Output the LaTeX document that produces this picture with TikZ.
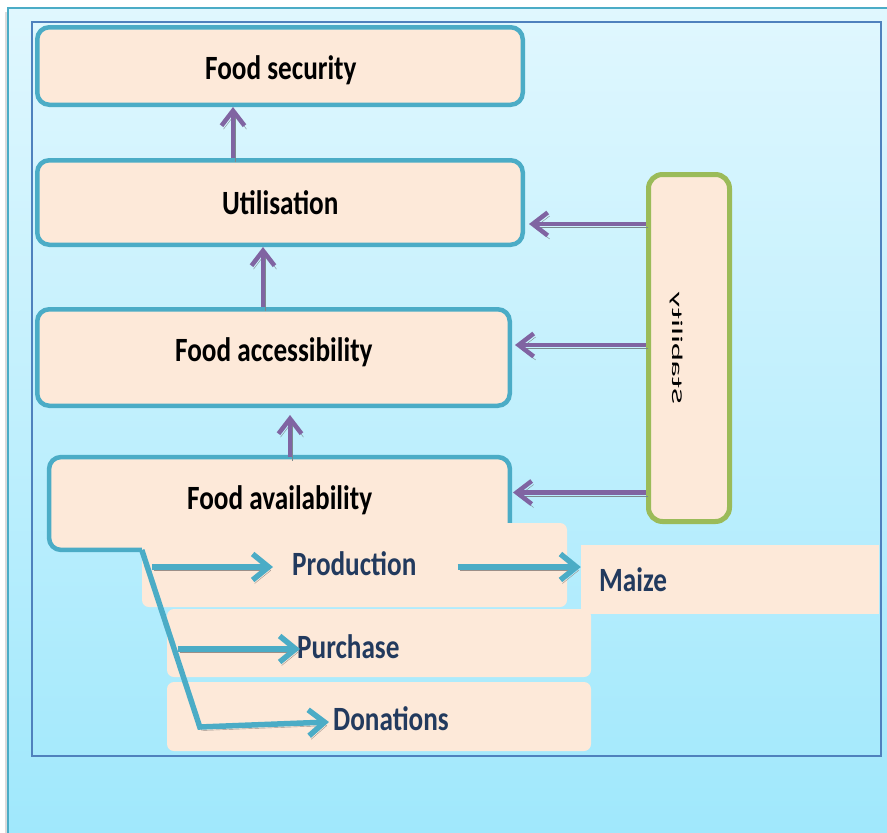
\documentclass[tikz,border=0pt]{standalone}
\usepackage{fontspec}
\setmainfont{Carlito}
\newfontfamily\headfont{Carlito}[FakeStretch=0.8]
\usetikzlibrary{arrows.meta}

\definecolor{peach}{HTML}{FDE9D9}
\definecolor{tealline}{HTML}{4BACC6}
\definecolor{purp}{HTML}{8064A2}
\definecolor{leaf}{HTML}{9BBB59}
\definecolor{navy}{HTML}{223A5E}
\definecolor{shadeT}{HTML}{9C8F88}
\definecolor{shadeP}{HTML}{7B8A8E}
\definecolor{frameblue}{HTML}{4F81BD}
\definecolor{bgtop}{HTML}{E0F7FE}
\definecolor{bgbot}{HTML}{A0E8FC}

\tikzset{
  levelbox/.style={draw=tealline, line width=4.5pt, fill=peach, rounded corners=12pt, inner sep=0pt},
  itembox/.style={fill=peach, rounded corners=7pt, inner sep=0pt},
  headlbl/.style={font=\headfont\bfseries\fontsize{34}{40}\selectfont, inner sep=0pt, anchor=base west},
  itemlbl/.style={headlbl, text=navy},
  purplearrow/.style={draw=purp, line width=4.5pt, -{Straight Barb[length=15pt,width=23pt]},
    preaction={draw=shadeP, transform canvas={xshift=2pt,yshift=-3.5pt}}},
  flowarrow/.style={draw=tealline, line width=5.5pt, -{Straight Barb[length=16pt,width=26pt]},
    preaction={draw=shadeT, transform canvas={xshift=2pt,yshift=-3.5pt}}},
}

\begin{document}
\begin{tikzpicture}[x=1pt,y=-1pt]
\useasboundingbox (0,0) rectangle (887,833);
\clip (0,0) rectangle (887,833);

% page and frames
\fill[white] (0,0) rectangle (887,833);
\fill[black!14] (5,12) rectangle (8,833);
\shade[top color=bgtop, bottom color=bgbot] (8,8) rectangle (887,833);
\draw[tealline, line width=1.5pt] (8,833) -- (8,8) -- (887,8);
\draw[frameblue, line width=1.8pt] (32,22) rectangle (881,756);

% the four levels
\node[levelbox, minimum width=485.5pt, minimum height=77.5pt] (fs) at (280,66) {};
\node[levelbox, minimum width=485.5pt, minimum height=84.5pt] (util) at (280,202.5) {};
\node[levelbox, minimum width=472.5pt, minimum height=96.5pt] (acc) at (273.5,357.5) {};
\node[fill=peach, rounded corners=12pt, inner sep=0pt, minimum width=460.5pt, minimum height=92.5pt] (avail) at (279.5,503.5) {};

% sources of availability
\node[itembox, minimum width=425pt, minimum height=84pt] (prodbox) at (354.5,565) {};
\draw[tealline, line width=4.5pt, rounded corners=12pt]
  (avail.east |- prodbox.north) -- (avail.north east) -- (avail.north west)
  -- (avail.south west) -- (prodbox.west |- avail.south) coordinate (fork);
\node[itembox, minimum width=424pt, minimum height=68pt] (purchbox) at (379,643) {};
\node[itembox, minimum width=424pt, minimum height=69pt] (donbox) at (379,716.5) {};
\node[fill=peach, inner sep=0pt, minimum width=298pt, minimum height=69pt] (maizebox) at (730,579.5) {};

% stability pillar, its label set as mirrored vertical text
\node[draw=leaf, line width=5pt, fill=peach, rounded corners=14pt, inner sep=0pt,
      minimum width=81pt, minimum height=347pt] (stab) at (689,348) {};
\node[inner sep=0pt] (stablbl) at (676.5,348.5)
  {\rotatebox{90}{\scalebox{2.3}[-1]{\fontsize{15}{18}\selectfont Stability}}};

% labels
\node[headlbl] (fstxt) at (205,79) {Food security};
\node[headlbl] (utiltxt) at (222,214) {Utilisation};
\node[headlbl] (acctxt) at (175,361) {Food accessibility};
\node[headlbl] (availtxt) at (187,509) {Food availability};
\node[itemlbl] (prod) at (292,575) {Production};
\node[itemlbl] (maize) at (599,591) {Maize};
\node[itemlbl] (purch) at (297,658) {Purchase};
\node[itemlbl] (don) at (333,730) {Donations};

% upward links between levels
\coordinate (a1) at ([xshift=-47pt]util.north);
\draw[purplearrow] (a1) -- (a1 |- fs.south);
\coordinate (a2) at ([xshift=-10.5pt]acc.north);
\draw[purplearrow] (a2) -- (a2 |- util.south);
\coordinate (a3) at ([xshift=10.5pt]avail.north);
\coordinate (a3tip) at ([xshift=16.5pt,yshift=-7pt]acc.south);
\draw[purplearrow] (a3) -- (a3tip);

% stability feeds three levels
\coordinate (s1) at ([xshift=4pt,yshift=-21.5pt]util.east);
\draw[purplearrow] (stab.west |- s1) -- (s1);
\coordinate (s2) at ([xshift=3pt,yshift=12.5pt]acc.east);
\draw[purplearrow] (stab.west |- s2) -- (s2);
\coordinate (s3) at ([xshift=3pt,yshift=11pt]avail.east);
\draw[purplearrow] (stab.west |- s3) -- (s3);

% flows out of availability
\coordinate (p0) at ([xshift=10pt,yshift=-2pt]prodbox.west);
\coordinate (p1) at ([xshift=-19pt,yshift=8pt]prod.base west);
\draw[flowarrow] (p0) -- (p1);
\coordinate (m0) at ([xshift=41pt,yshift=8pt]prod.base east);
\draw[flowarrow] (m0) -- (m0 -| maizebox.west);
\coordinate (q0) at ([xshift=11pt,yshift=-6pt]purchbox.west);
\coordinate (q1) at ([xshift=3pt,yshift=9pt]purch.base west);
\draw[flowarrow] (q0) -- (q1);
\coordinate (kink) at ([xshift=33pt,yshift=-10.5pt]donbox.west);
\coordinate (d1) at ([xshift=-4pt,yshift=8pt]don.base west);
\draw[flowarrow] (fork) -- (kink) -- (d1);
\end{tikzpicture}
\end{document}
